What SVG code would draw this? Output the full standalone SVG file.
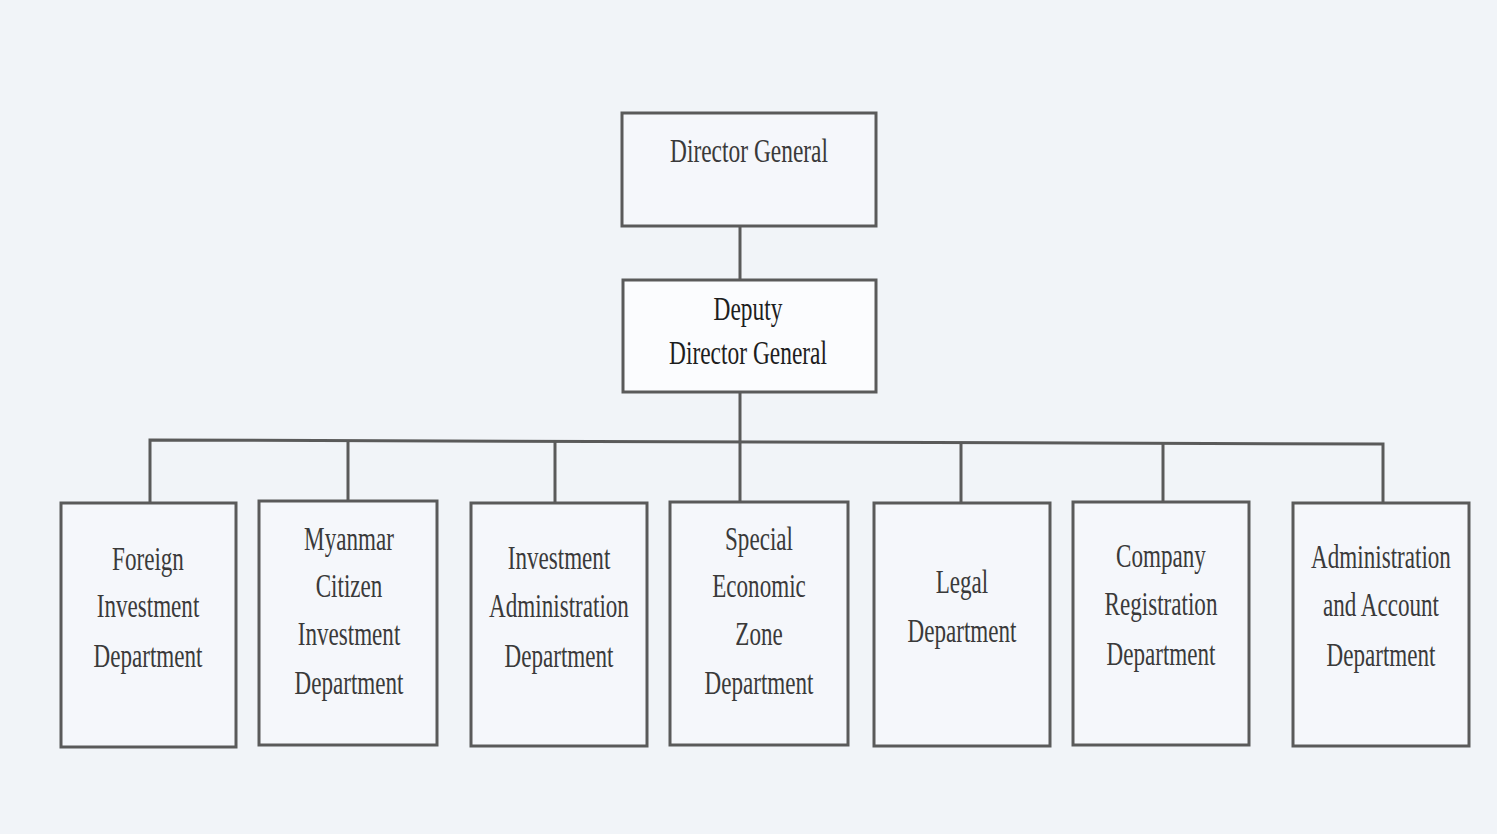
<svg xmlns="http://www.w3.org/2000/svg" width="1497" height="834" viewBox="0 0 1497 834">
<style>
.bg{fill:#f1f4f8}
.box{fill:#f5f7fb;stroke:#5a5a5a;stroke-width:3}
.ln{stroke:#5a5a5a;stroke-width:3;fill:none}
.t{font-size:33px;fill:#3a3a3a;text-anchor:middle}
.d{fill:#1e1e1e}
</style>
<rect class="bg" x="0" y="0" width="1497" height="834"/>
<g id="connectors">
<line class="ln" x1="740" y1="226" x2="740" y2="280"/>
<line class="ln" x1="740" y1="392" x2="740" y2="502"/>
<polyline class="ln" points="150,503 150,440 1383,444 1383,503"/>
<line class="ln" x1="348" y1="440" x2="348" y2="501"/>
<line class="ln" x1="555" y1="441" x2="555" y2="503"/>
<line class="ln" x1="961" y1="443" x2="961" y2="503"/>
<line class="ln" x1="1163" y1="443" x2="1163" y2="502"/>
</g>
<g font-family="'Liberation Serif', 'DejaVu Serif', serif">
<g id="n_dg">
<rect class="box" x="622" y="113" width="254" height="113"/>
<g transform="translate(749 0) scale(0.71 1)"><text class="t" x="0" y="162">Director General</text></g>
</g>
<g id="n_ddg">
<rect class="box" x="623" y="280" width="253" height="112" style="fill:#fbfcfe"/>
<g transform="translate(748 0) scale(0.71 1)"><text class="t d" x="0" y="320">Deputy</text><text class="t d" x="0" y="364">Director General</text></g>
</g>
<g id="n_fid">
<rect class="box" x="61" y="503" width="175" height="244"/>
<g transform="translate(148 0) scale(0.7 1)"><text class="t" x="0" y="570">Foreign</text><text class="t" x="0" y="617">Investment</text><text class="t" x="0" y="667">Department</text></g>
</g>
<g id="n_mcid">
<rect class="box" x="259" y="501" width="178" height="244"/>
<g transform="translate(349 0) scale(0.7 1)"><text class="t" x="0" y="550">Myanmar</text><text class="t" x="0" y="597">Citizen</text><text class="t" x="0" y="645">Investment</text><text class="t" x="0" y="694">Department</text></g>
</g>
<g id="n_iad">
<rect class="box" x="471" y="503" width="176" height="243"/>
<g transform="translate(559 0) scale(0.7 1)"><text class="t" x="0" y="569">Investment</text><text class="t" x="0" y="617">Administration</text><text class="t" x="0" y="667">Department</text></g>
</g>
<g id="n_sez">
<rect class="box" x="670" y="502" width="178" height="243"/>
<g transform="translate(759 0) scale(0.7 1)"><text class="t" x="0" y="550">Special</text><text class="t" x="0" y="597">Economic</text><text class="t" x="0" y="645">Zone</text><text class="t" x="0" y="694">Department</text></g>
</g>
<g id="n_legal">
<rect class="box" x="874" y="503" width="176" height="243"/>
<g transform="translate(962 0) scale(0.7 1)"><text class="t" x="0" y="593">Legal</text><text class="t" x="0" y="642">Department</text></g>
</g>
<g id="n_crd">
<rect class="box" x="1073" y="502" width="176" height="243"/>
<g transform="translate(1161 0) scale(0.7 1)"><text class="t" x="0" y="567">Company</text><text class="t" x="0" y="615">Registration</text><text class="t" x="0" y="665">Department</text></g>
</g>
<g id="n_aad">
<rect class="box" x="1293" y="503" width="176" height="243"/>
<g transform="translate(1381 0) scale(0.7 1)"><text class="t" x="0" y="568">Administration</text><text class="t" x="0" y="616">and Account</text><text class="t" x="0" y="666">Department</text></g>
</g>
</g>
</svg>
